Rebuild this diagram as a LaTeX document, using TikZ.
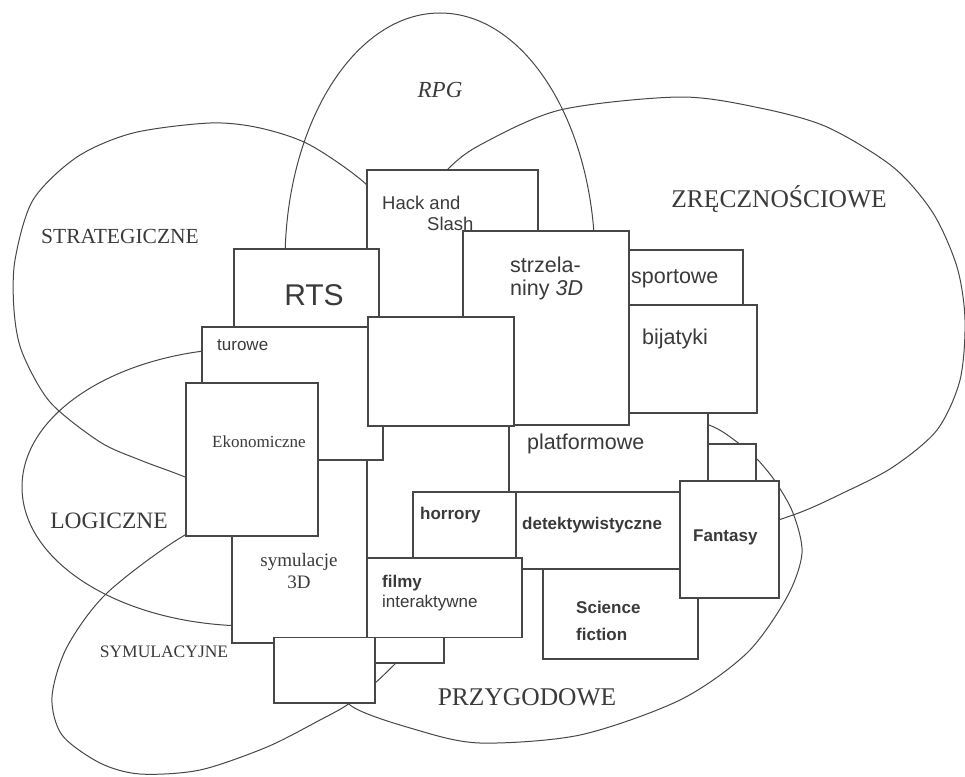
\documentclass[tikz,border=0pt]{standalone}
\usepackage{fontspec}
\setmainfont{Liberation Serif}
\setsansfont{Liberation Sans}
\definecolor{linegray}{HTML}{474747}
\definecolor{textgray}{HTML}{3A3A3A}
\tikzset{
    genre/.style={draw=linegray, line width=1pt},
    box/.style={draw=linegray, fill=white, line width=1.5pt},
    genrename/.style={anchor=base, inner sep=0pt, text=textgray},
    boxname/.style={anchor=base west, inner sep=0pt, text=textgray, font=\sffamily\fontsize{21.5}{24}\selectfont},
    smallname/.style={boxname, font=\sffamily\bfseries\fontsize{17}{20}\selectfont}
}
\begin{document}
\begin{tikzpicture}[x=1pt,y=-1pt]
    \useasboundingbox (0,0) rectangle (965,776);
    % obszary gatunkow
    \draw[genre] plot[smooth cycle] coordinates {(367,185) (310,145) (260,128) (210,123) (133,133) (77,157) (33,200) (15,260) (14,310) (22,352) (50,402) (100,442) (140,460) (185,477) (250,505) (330,500) (400,450) (430,380) (420,300) (400,230)};
    \draw[genre] (440,262) ellipse [x radius=155pt, y radius=249pt];
    \draw[genre] plot[smooth cycle] coordinates {(447,170) (480,145) (560,110) (680,97) (760,108) (827,127) (893,167) (933,213) (957,267) (965,320) (960,380) (937,430) (893,467) (843,493) (793,515) (720,535) (620,530) (540,470) (480,420) (430,330) (410,260) (420,205)};
    \draw[genre] (251,487) ellipse [x radius=229pt, y radius=139pt];
    \draw[genre] plot[smooth cycle] coordinates {(185,535) (107,593) (67,647) (52,697) (62,735) (100,763) (140,774) (200,770) (267,747) (320,720) (347,705) (375,683) (395,664) (430,630) (465,585) (470,540) (430,505) (350,490) (260,505)};
    \draw[genre] plot[smooth cycle] coordinates {(350,705) (417,730) (480,743) (580,735) (680,700) (747,653) (787,597) (802,553) (793,513) (775,481) (756,458) (737,442) (709,425) (640,405) (540,420) (450,460) (385,520) (345,600) (335,665)};

    % prostokaty
    \draw[box] (367,170) rectangle (538,340);
    \draw[box] (600,250) rectangle (743,305);
    \draw[box] (700,444) rectangle (756,500);
    \draw[box] (367,410) rectangle (515,560);
    \draw[box] (509,400) rectangle (708,492);
    \draw[box] (600,305) rectangle (757,413);
    \draw[box] (463,231) rectangle (629,425);
    \draw[box] (234,249) rectangle (379,340);
    \draw[box] (232,400) rectangle (367,643);
    \draw[box] (202,327) rectangle (383,460);
    \draw[box] (186,383) rectangle (318,536);
    \draw[box] (368,317) rectangle (514,426);
    \draw[box] (543,540) rectangle (698,659);
    \draw[box] (516,492) rectangle (700,569);
    \draw[box] (413,492) rectangle (516,575);
    \draw[box] (370,600) rectangle (444,663);
    \draw[box] (367,558) rectangle (522,637.5);
    \draw[box] (274,637.5) rectangle (375,703);
    \draw[box] (680,481) rectangle (779,598);

    % nazwy gatunkow
    \node[genrename, font=\fontsize{21.5}{24}\selectfont] (strategiczne) at (120,243) {STRATEGICZNE};
    \node[genrename, font=\itshape\fontsize{23}{26}\selectfont] (rpg) at (440,97) {RPG};
    \node[genrename, font=\fontsize{25.5}{28}\selectfont] (zrecznosciowe) at (779,207) {ZRĘCZNOŚCIOWE};
    \node[genrename, font=\fontsize{23.5}{26}\selectfont] (logiczne) at (109,528) {LOGICZNE};
    \node[genrename, font=\fontsize{17.5}{20}\selectfont] (symulacyjne) at (164,657) {SYMULACYJNE};
    \node[genrename, font=\fontsize{25.5}{28}\selectfont] (przygodowe) at (527,705) {PRZYGODOWE};

    \node[boxname, font=\sffamily\fontsize{30}{34}\selectfont, anchor=base] (rts) at (314,305) {RTS};
    \node[boxname, font=\sffamily\fontsize{18.5}{22}\selectfont] (hack) at (382,209) {Hack and};
    \node[boxname, font=\sffamily\fontsize{18.5}{22}\selectfont] (slash) at (427,230) {Slash};
    \node[boxname] (strzela) at (510,272) {strzela-};
    \node[boxname] (niny) at (510,295) {niny \textit{3D}};
    \node[boxname] (sportowe) at (631,283) {sportowe};
    \node[boxname] (bijatyki) at (642,344) {bijatyki};
    \node[boxname, font=\sffamily\fontsize{17}{20}\selectfont] (turowe) at (217,350) {turowe};
    \node[boxname, font=\fontsize{17}{20}\selectfont] (ekonomiczne) at (212,447) {Ekonomiczne};
    \node[genrename, font=\fontsize{19}{22}\selectfont] (symulacje) at (299,566) {symulacje};
    \node[genrename, font=\fontsize{19}{22}\selectfont] (trzyd) at (299,588) {3D};
    \node[boxname] (platformowe) at (527,449) {platformowe};
    \node[smallname] (horrory) at (420,519) {horrory};
    \node[smallname] (detektywistyczne) at (522,529) {detektywistyczne};
    \node[smallname] (fantasy) at (693,541) {Fantasy};
    \node[smallname] (filmy) at (382,587) {filmy};
    \node[boxname, font=\sffamily\fontsize{17}{20}\selectfont] (interaktywne) at (382,607) {interaktywne};
    \node[smallname] (science) at (576,613) {Science};
    \node[smallname] (fiction) at (576,640) {fiction};
\end{tikzpicture}
\end{document}
